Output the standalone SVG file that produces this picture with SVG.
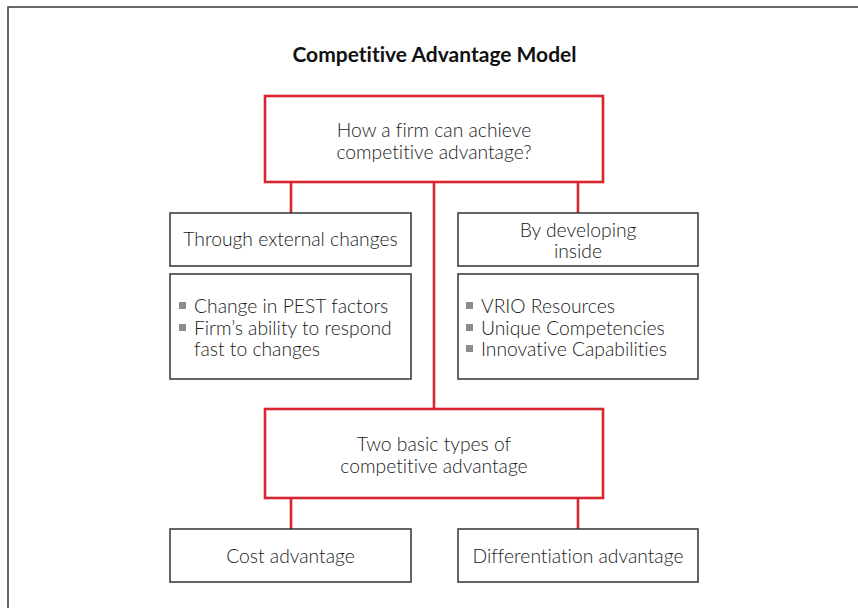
<svg xmlns="http://www.w3.org/2000/svg" width="858" height="608" viewBox="0 0 858 608">
  <style>
    .frame { fill: #ffffff; stroke: #444444; stroke-width: 1.6; }
    .key { fill: #ffffff; stroke: #d7262f; stroke-width: 2.6; }
    .box { fill: #ffffff; stroke: #333333; stroke-width: 1.5; }
    .link { fill: none; stroke: #d7262f; stroke-width: 2.6; }
    .bullet { fill: #8c8c8c; }
    text { font-family: "Lato", "Liberation Sans", sans-serif; font-size: 19.3px; font-weight: 300; fill: #1a1a1a; font-variant-ligatures: none; }
    .mid { text-anchor: middle; }
    .title { font-weight: bold; font-size: 21px; fill: #111111; }
  </style>

  <!-- outer frame runs off the right and bottom edges -->
  <rect class="frame" x="8" y="7" width="900" height="700"/>

  <text class="title mid" x="434.5" y="62">Competitive Advantage Model</text>

  <!-- connectors -->
  <g id="connectors">
    <line class="link" x1="291" y1="182" x2="291" y2="213"/>
    <line class="link" x1="578" y1="182" x2="578" y2="213"/>
    <line class="link" x1="434" y1="182" x2="434" y2="409"/>
    <line class="link" x1="291" y1="498" x2="291" y2="529"/>
    <line class="link" x1="578" y1="498" x2="578" y2="529"/>
  </g>

  <g id="question">
    <rect class="key" x="265" y="96" width="338" height="86"/>
    <text class="mid" x="434" y="137">How a firm can achieve</text>
    <text class="mid" x="434" y="159">competitive advantage?</text>
  </g>

  <g id="external">
    <rect class="box" x="170" y="213" width="241" height="53"/>
    <text class="mid" x="290.5" y="246">Through external changes</text>
  </g>

  <g id="internal">
    <rect class="box" x="458" y="213" width="240" height="53"/>
    <text class="mid" x="578" y="237">By developing</text>
    <text class="mid" x="578" y="258">inside</text>
  </g>

  <g id="external-factors">
    <rect class="box" x="170" y="274" width="241" height="105"/>
    <rect class="bullet" x="179" y="302" width="7" height="7"/>
    <rect class="bullet" x="179" y="324" width="7" height="7"/>
    <text x="194" y="313">Change in PEST factors</text>
    <text x="194" y="334.5">Firm’s ability to respond</text>
    <text x="194" y="356">fast to changes</text>
  </g>

  <g id="internal-factors">
    <rect class="box" x="458" y="274" width="240" height="105"/>
    <rect class="bullet" x="466" y="302" width="7" height="7"/>
    <rect class="bullet" x="466" y="324" width="7" height="7"/>
    <rect class="bullet" x="466" y="345" width="7" height="7"/>
    <text x="481" y="313">VRIO Resources</text>
    <text x="481" y="334.5">Unique Competencies</text>
    <text x="481" y="356">Innovative Capabilities</text>
  </g>

  <g id="types">
    <rect class="key" x="265" y="409" width="338" height="89"/>
    <text class="mid" x="434" y="451">Two basic types of</text>
    <text class="mid" x="434" y="473">competitive advantage</text>
  </g>

  <g id="cost">
    <rect class="box" x="170" y="529" width="241" height="53"/>
    <text class="mid" x="290.5" y="563">Cost advantage</text>
  </g>

  <g id="differentiation">
    <rect class="box" x="458" y="529" width="240" height="53"/>
    <text class="mid" x="578" y="563">Differentiation advantage</text>
  </g>
</svg>
